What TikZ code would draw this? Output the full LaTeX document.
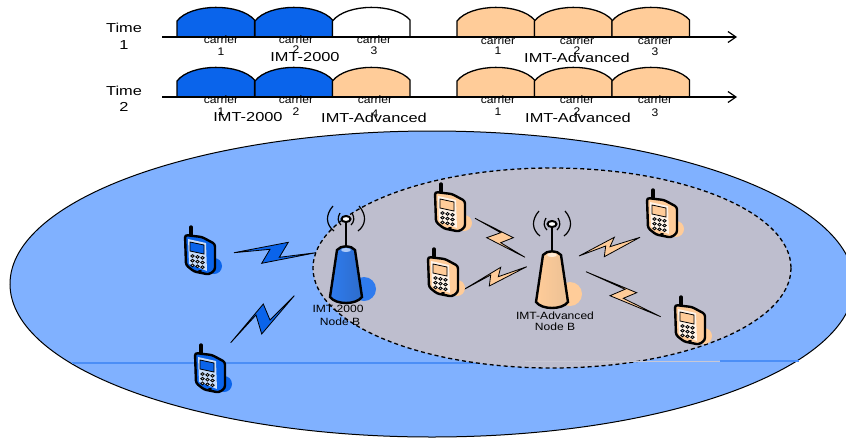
\documentclass[tikz,border=0pt]{standalone}
\usepackage{fontspec}
\setmainfont{Liberation Sans}
\usetikzlibrary{arrows.meta}
\definecolor{imtblue}{RGB}{10,100,235}
\definecolor{imtorange}{RGB}{255,204,153}
\definecolor{macrocell}{RGB}{128,177,255}
\definecolor{smallcell}{RGB}{190,190,206}
\tikzset{%
  pics/phone/.style={code={%
    \fill[#1] (14,11) circle (8);
    \draw[line width=3.4pt,line cap=round] (-9,-28) -- (-9,-19);
    \draw[line width=2.4pt,fill=#1,rounded corners=2.5pt] (-15,-20) -- (2,-18) -- (15,-11) -- (15,15) -- (9,19.5) -- (-6,16.5) -- (-14,10) -- cycle;
    \fill[white!78!#1] (-12,-16) -- (6,-12) -- (7,16) -- (-11,9) -- cycle;
    \draw[line width=.8pt,fill=#1] (-10,-13) -- (4,-10) -- (4,-1) -- (-10,-4) -- cycle;
    \foreach \col in {0,1,2}
      \foreach \row in {0,1,2}
        \draw[line width=.8pt,fill=gray!45] (-7.5+5*\col,1+4.7*\row+.9*\col) ellipse (1.7 and 1.4);
    \fill (0,16) ellipse (2 and .9);
  }},
  pics/tower/.style 2 args={code={%
    \fill[#1] (18,70) circle (12);
    \draw[line width=1.2pt] (-6,-6) .. controls (-9,-1) and (-8,3) .. (-5,6);
    \draw[line width=1.2pt] (6,-6) .. controls (9,-1) and (8,3) .. (5,6);
    \draw[line width=1.2pt] (-13,-13) .. controls (-21,-4) and (-20,6) .. (-12,12);
    \draw[line width=1.2pt] (13,-13) .. controls (21,-4) and (20,6) .. (12,12);
    \draw[line width=2pt] (0,0) -- (0,30);
    \draw[line width=2pt,fill=white] (0,0) ellipse (4.5 and 3);
    \shadedraw[line width=2.4pt,left color=#1,right color=#2] (-9,31) .. controls (-5,26) and (5,26) .. (9,31) -- (16,78) .. controls (10,86) and (-10,86) .. (-16,78) -- cycle;
    \fill[white!60!#1] (0,31) ellipse (5 and 2);
  }},
  humptop/.style={line width=1.3pt},
  bigtxt/.style={font=\fontsize{13}{13}\selectfont,xscale=1.26,transform shape,inner sep=0pt},
  smalltxt/.style={font=\fontsize{11}{11}\selectfont,xscale=1.1,transform shape,inner sep=0pt},
  basetxt/.style={font=\fontsize{10.5}{10.5}\selectfont,xscale=1.15,transform shape,inner sep=0pt},
  boltblue/.style={fill=imtblue,draw=black,line width=.8pt,line join=miter},
  boltorange/.style={fill=imtorange,draw=black,line width=.8pt,line join=miter}
}
\begin{document}
\begin{tikzpicture}[x=1pt,y=-1pt]
\useasboundingbox (0,0) rectangle (846,437);
% cells
\draw[line width=1pt,fill=macrocell] (432,284) ellipse (422 and 153);
\draw[line width=1.2pt,color=imtblue!45!macrocell] (72,363) -- (480,363);
\draw[line width=1.3pt,dash pattern=on 4pt off 3pt,fill=smallcell] (552,268) ellipse (239 and 100);
\draw[line width=1pt,color=white!15!smallcell] (525,361) -- (720,361);
\draw[line width=1.2pt,color=imtblue!45!macrocell] (720,361) -- (799,361);
% carriers
\foreach \hx/\hy/\hfill in {177/37/imtblue,255/37/imtblue,332.5/37/white,457/37/imtorange,534.5/37/imtorange,612/37/imtorange,%
  177/97/imtblue,255/97/imtblue,332.5/97/imtorange,457/97/imtorange,534.5/97/imtorange,612/97/imtorange}
  \draw[humptop,fill=\hfill] (\hx,\hy) -- (\hx,\hy-16) .. controls (\hx+14,\hy-34) and (\hx+63,\hy-34) .. (\hx+77.5,\hy-17) -- (\hx+77.5,\hy) -- cycle;
\coordinate (axisa) at (162,37);
\coordinate (axisaend) at (737,37);
\coordinate (axisb) at (162,97);
\coordinate (axisbend) at (737,97);
\draw[line width=1.2pt,-{Straight Barb[length=8pt,width=11pt]}] (axisa) -- (axisaend);
\draw[line width=1.2pt,-{Straight Barb[length=8pt,width=11pt]}] (axisb) -- (axisbend);
\node[bigtxt] (timea) at (124,28) {Time};
\node[bigtxt] (numa) at (124,45) {1};
\node[bigtxt] (timeb) at (124,91) {Time};
\node[bigtxt] (numb) at (124,107) {2};
\foreach \lx/\ly/\ln/\ld in {221/40/1/52,296/40/2/50,374/40/3/51,498/41/1/51,577/41/2/51,655/41/3/52,%
  221/100/1/112,296/100/2/112,375/100/4/114,498/100/1/112,577/100/2/112,655/100/3/113}{
  \node[smalltxt] (car\lx\ly) at (\lx,\ly) {carrier};
  \node[smalltxt] (dig\lx\ly) at (\lx,\ld) {\ln};
}
\node[bigtxt] (systa) at (305,57.5) {IMT-2000};
\node[bigtxt] (systb) at (577,58) {IMT-Advanced};
\node[bigtxt] (systc) at (248,117.5) {IMT-2000};
\node[bigtxt] (systd) at (374,117.5) {IMT-Advanced};
\node[bigtxt] (syste) at (578,118) {IMT-Advanced};
% links
\draw[boltblue] (234,252.7) -- (288.3,242.3) -- (279.3,257.3) -- (316,252.7) -- (261.7,263.3) -- (270,249.3) -- cycle;
\draw[boltblue] (230.7,342.7) -- (263.3,304) -- (270,320) -- (294.3,295.7) -- (261.7,334) -- (256,315) -- cycle;
\draw[boltorange] (475,218.3) -- (513.3,237.7) -- (500.7,242.7) -- (525,257.3) -- (486.7,237.7) -- (500.7,232.7) -- cycle;
\draw[boltorange] (463,290) -- (500.7,267.3) -- (498.3,276.7) -- (526.7,266.7) -- (489.3,286) -- (490.7,275) -- cycle;
\draw[boltorange] (579,256) -- (614.3,237.3) -- (610,246.7) -- (640,237.3) -- (604.3,256.7) -- (605.7,246) -- cycle;
\draw[boltorange] (586,271.7) -- (636.7,292.7) -- (623.3,298.3) -- (660.7,316.7) -- (610,295.7) -- (625,289.3) -- cycle;
% stations
\pic at (346,219) {tower={imtblue!85!white}{imtblue!70!gray}};
\pic at (552,224) {tower={imtorange}{imtorange!85!gray}};
\node[basetxt] (nodebaa) at (338,309) {IMT-2000};
\node[basetxt] (nodebab) at (340,322) {Node B};
\node[basetxt] (nodebba) at (555,316) {IMT-Advanced};
\node[basetxt] (nodebbb) at (555,327) {Node B};
% phones
\pic at (200,255) {phone=imtblue};
\pic at (210,373) {phone=imtblue};
\pic at (450,212) {phone=imtorange};
\pic at (443,277) {phone=imtorange};
\pic at (662,218) {phone=imtorange};
\pic at (690,325) {phone=imtorange};
\end{tikzpicture}
\end{document}
